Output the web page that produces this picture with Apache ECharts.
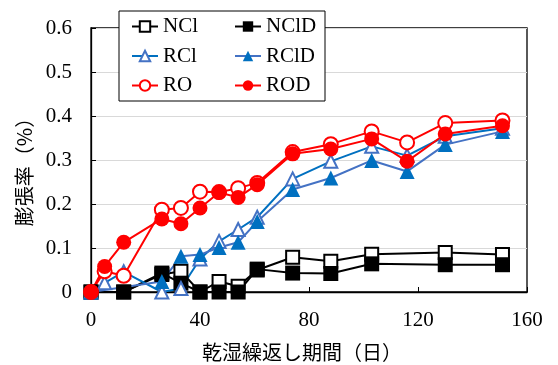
<!DOCTYPE html>
<html><head><meta charset="utf-8">
<script src="https://cdn.jsdelivr.net/npm/echarts@6/dist/echarts.min.js"></script>
<style>html,body{margin:0;padding:0;background:#fff}#c{width:558px;height:365px}</style>
</head><body><div id="c"></div>
<script>
var days = [0, 5, 12, 26, 33, 40, 47, 54, 61, 74, 88, 103, 116, 130, 151];
var NCl  = [0, null, 0, 0.04, 0.047, 0, 0.024, 0.013, 0.05, 0.079, 0.07, 0.086, null, 0.09, 0.085];
var NClD = [0, null, 0, 0.043, 0.02, 0, 0, 0, 0.052, 0.043, 0.042, 0.064, null, 0.062, 0.062];
var RCl  = [0, 0.021, 0.046, 0, 0.008, 0.075, 0.115, 0.142, 0.17, 0.257, 0.297, 0.331, 0.31, 0.354, 0.372];
var RClD = [0, null, null, 0.024, 0.081, 0.085, 0.101, 0.113, 0.16, 0.233, 0.259, 0.299, 0.274, 0.335, 0.365];
var RO   = [0, 0.047, 0.037, 0.187, 0.191, 0.228, 0.227, 0.236, 0.248, 0.318, 0.336, 0.365, 0.34, 0.384, 0.39];
var ROD  = [0, 0.058, 0.113, 0.166, 0.155, 0.191, 0.226, 0.215, 0.244, 0.314, 0.325, 0.348, 0.297, 0.359, 0.378];
var xTicks = [0, 40, 80, 120, 160];
var yTicks = [0, 0.1, 0.2, 0.3, 0.4, 0.5, 0.6];
var xName = '乾湿繰返し期間（日）';
var yName = '膨張率（%）';

function pairs(ys){ return days.map(function(d,i){ return [d, ys[i]]; }); }
var serif = "'Liberation Serif','Times New Roman',serif";
var cjk = "'Noto Sans CJK JP',sans-serif";

function ser(name, ys, symbol, lineColor, fill, border, size){
  return {
    name: name, type: 'line', data: pairs(ys), connectNulls: true,
    symbol: symbol, symbolSize: size,
    lineStyle: {color: lineColor, width: 2},
    itemStyle: {color: fill, borderColor: border, borderWidth: fill === '#ffffff' ? 2 : 0},
    emphasis: {disabled: true}, animation: false
  };
}

var chart = echarts.init(document.getElementById('c'));
var legendText = {fontFamily: serif, fontSize: 21, color: '#000', lineHeight: 21};
chart.setOption({
  animation: false,
  grid: {left: 91, right: 31, top: 28, bottom: 73, show: true, borderColor: '#000', borderWidth: 1.3,
    backgroundColor: 'transparent', containLabel: false, outerBoundsMode: 'none'},
  xAxis: {
    type: 'value', min: xTicks[0], max: xTicks[xTicks.length-1], interval: 40,
    name: xName, nameLocation: 'middle', nameGap: 50,
    nameTextStyle: {fontFamily: cjk, fontSize: 20, color: '#000', padding: [0, 14, 0, 0]},
    axisLine: {show: true, lineStyle: {color: '#000', width: 1.3}},
    axisTick: {show: true, inside: true, length: 5, lineStyle: {color: '#000'}},
    axisLabel: {fontFamily: serif, fontSize: 21, color: '#000', margin: 18},
    splitLine: {show: false}
  },
  yAxis: {
    type: 'value', min: yTicks[0], max: yTicks[yTicks.length-1], interval: 0.1,
    name: yName, nameLocation: 'middle', nameGap: 56, nameRotate: 90,
    nameTextStyle: {fontFamily: cjk, fontSize: 20, color: '#000', padding: [0, 14, 0, 0]},
    axisLine: {show: true, lineStyle: {color: '#000', width: 1.3}},
    axisTick: {show: true, inside: true, length: 5, lineStyle: {color: '#000'}},
    axisLabel: {fontFamily: serif, fontSize: 21, color: '#000', margin: 19,
      formatter: function(v){ return String(Math.round(v*10)/10); }},
    splitLine: {show: true, lineStyle: {color: '#d9d9d9', width: 1}}
  },
  graphic: [{type: 'rect', z: 50, shape: {x: 119, y: 11, width: 206, height: 90},
    style: {fill: '#fff', stroke: '#000', lineWidth: 1}}],
  legend: [
    {data: ['NCl', 'RCl', 'RO'], orient: 'vertical', left: 131, top: 16, padding: 0,
     itemWidth: 26, itemHeight: 13, itemGap: 8.5, textStyle: legendText, z: 60, selectedMode: false},
    {data: ['NClD', 'RClD', 'ROD'], orient: 'vertical', left: 234, top: 16, padding: 0,
     itemWidth: 26, itemHeight: 13, itemGap: 8.5, textStyle: legendText, z: 60, selectedMode: false}
  ],
  series: [
    ser('NCl', NCl, 'rect', '#000', '#ffffff', '#000', 13),
    ser('NClD', NClD, 'rect', '#000', '#000', '#000', 15),
    ser('RCl', RCl, 'triangle', '#0070C0', '#ffffff', '#4472C4', 13),
    ser('RClD', RClD, 'triangle', '#4472C4', '#0070C0', '#0070C0', 15),
    ser('RO', RO, 'circle', '#FF0000', '#ffffff', '#FF0000', 14),
    ser('ROD', ROD, 'circle', '#FF0000', '#FF0000', '#FF0000', 15)
  ]
});
</script></body></html>
